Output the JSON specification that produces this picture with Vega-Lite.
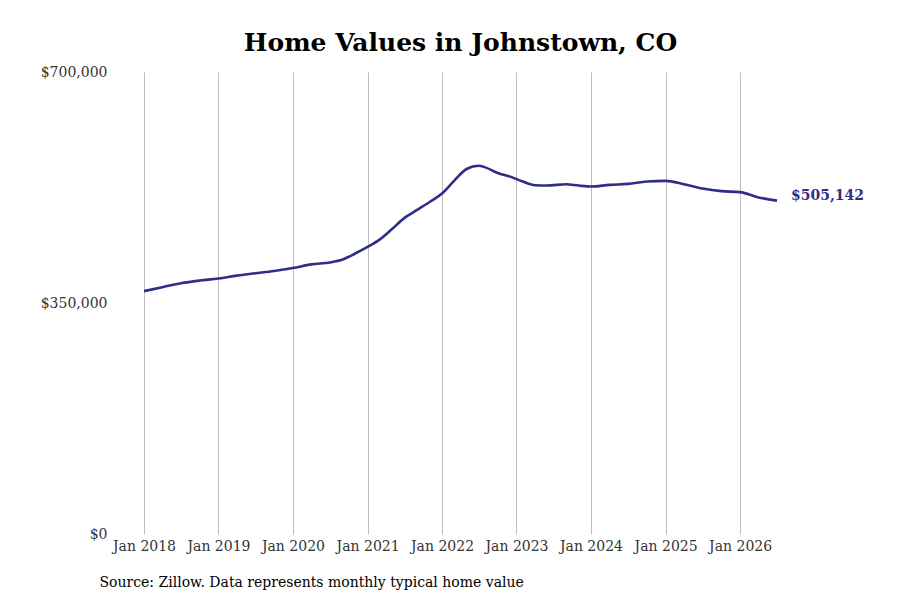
{
  "$schema": "https://vega.github.io/schema/vega-lite/v6.json",
  "width": 633,
  "height": 462,
  "autosize": {"type": "none"},
  "padding": {"left": 144, "top": 72, "right": 123, "bottom": 66},
  "background": "white",
  "title": {
    "text": "Home Values in Johnstown, CO",
    "font": "DejaVu Serif",
    "fontSize": 25,
    "fontWeight": "bold",
    "color": "black",
    "anchor": "middle",
    "offset": 9
  },
  "data": {
    "values": [
      {"date": "2018-01-01", "value": 368000},
      {"date": "2018-04-01", "value": 374000},
      {"date": "2018-07-01", "value": 380000},
      {"date": "2018-10-01", "value": 384000},
      {"date": "2019-01-01", "value": 387000},
      {"date": "2019-04-01", "value": 391500},
      {"date": "2019-07-01", "value": 395000},
      {"date": "2019-10-01", "value": 398500},
      {"date": "2020-01-01", "value": 403000},
      {"date": "2020-04-01", "value": 408500},
      {"date": "2020-07-01", "value": 411500},
      {"date": "2020-09-01", "value": 416000},
      {"date": "2020-11-01", "value": 425000},
      {"date": "2021-01-01", "value": 435000},
      {"date": "2021-03-01", "value": 446000},
      {"date": "2021-05-01", "value": 462000},
      {"date": "2021-07-01", "value": 479000},
      {"date": "2021-09-01", "value": 491000},
      {"date": "2021-11-01", "value": 503000},
      {"date": "2022-01-01", "value": 516000},
      {"date": "2022-03-01", "value": 535000},
      {"date": "2022-05-01", "value": 553000},
      {"date": "2022-07-01", "value": 558000},
      {"date": "2022-08-01", "value": 555500},
      {"date": "2022-10-01", "value": 547000},
      {"date": "2022-12-01", "value": 541500},
      {"date": "2023-02-01", "value": 534000},
      {"date": "2023-04-01", "value": 528500},
      {"date": "2023-06-01", "value": 528000},
      {"date": "2023-09-01", "value": 530000},
      {"date": "2023-11-01", "value": 528000},
      {"date": "2024-01-01", "value": 526500},
      {"date": "2024-04-01", "value": 529000},
      {"date": "2024-07-01", "value": 530500},
      {"date": "2024-10-01", "value": 534000},
      {"date": "2025-01-01", "value": 535000},
      {"date": "2025-04-01", "value": 530000},
      {"date": "2025-07-01", "value": 523500},
      {"date": "2025-10-01", "value": 519500},
      {"date": "2026-01-01", "value": 518000},
      {"date": "2026-04-01", "value": 510000},
      {"date": "2026-07-01", "value": 505142, "label": "$505,142"}
    ]
  },
  "encoding": {
    "x": {
      "field": "date",
      "type": "temporal",
      "scale": {"domain": ["2018-01-01", "2026-07-01"]},
      "axis": {
        "values": ["2018-01-01", "2019-01-01", "2020-01-01", "2021-01-01", "2022-01-01", "2023-01-01", "2024-01-01", "2025-01-01", "2026-01-01"],
        "format": "%b %Y",
        "grid": true,
        "gridColor": "#bdbdbd",
        "gridWidth": 1,
        "domain": false,
        "ticks": false,
        "labelAlign": "center",
        "labelOverlap": false,
        "labelFlush": false,
        "labelBound": false,
        "labelPadding": 5,
        "labelFont": "DejaVu Serif",
        "labelFontSize": 14,
        "labelColor": "#333333",
        "title": "Source: Zillow. Data represents monthly typical home value",
        "titleFont": "DejaVu Serif",
        "titleFontSize": 14,
        "titleFontWeight": "normal",
        "titleColor": "black",
        "titleAnchor": "start",
        "titleAlign": "left",
        "titleX": -45,
        "titlePadding": 22
      }
    },
    "y": {
      "field": "value",
      "type": "quantitative",
      "scale": {"domain": [0, 700000]},
      "axis": {
        "values": [0, 350000, 700000],
        "format": "$,.0f",
        "grid": false,
        "domain": false,
        "ticks": false,
        "labelPadding": 37,
        "labelFont": "DejaVu Serif",
        "labelFontSize": 14,
        "labelColor": "#333333",
        "title": null
      }
    }
  },
  "layer": [
    {
      "mark": {"type": "line", "color": "#2e2e8a", "strokeWidth": 2.6, "interpolate": "monotone"}
    },
    {
      "transform": [{"filter": "isValid(datum.label)"}],
      "mark": {"type": "text", "align": "left", "dx": 14, "dy": -5, "font": "DejaVu Serif", "fontSize": 14, "fontWeight": "bold", "color": "#2e2e8a"},
      "encoding": {"text": {"field": "label"}}
    }
  ],
  "config": {"view": {"stroke": null}}
}
